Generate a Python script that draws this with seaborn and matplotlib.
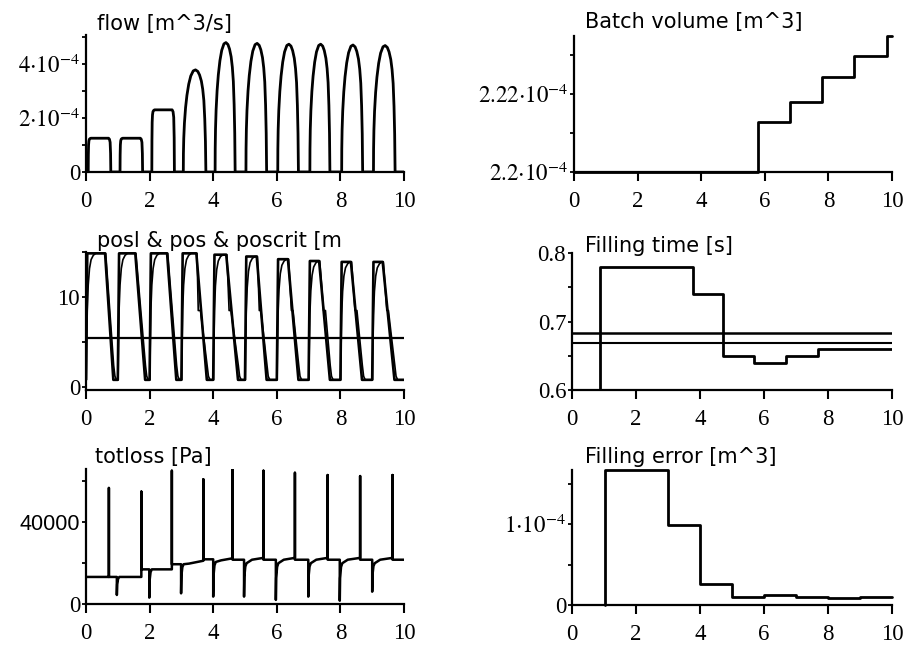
import numpy as np
import matplotlib
matplotlib.use("Agg")
import matplotlib.pyplot as plt
import seaborn as sns
from matplotlib.ticker import FixedLocator

# ---------------------------------------------------------------- data
x_ticks = [0, 2, 4, 6, 8, 10]

# flow [m^3/s]: one pulse per filling cycle
flow_start = [0.07, 1.07, 2.07, 3.06, 4.06, 5.03, 6.03, 7.04, 8.04, 9.04]
flow_end = [0.78, 1.78, 2.78, 3.77, 4.69, 5.68, 6.68, 7.67, 8.70, 9.72]
flow_peak = [1.25e-4, 1.25e-4, 2.30e-4, 3.78e-4, 4.79e-4, 4.76e-4, 4.73e-4,
             4.73e-4, 4.70e-4, 4.68e-4]
flow_shape = ["flat", "flat", "flat", "arc", "arc", "arc", "arc", "arc", "arc", "arc"]
# pulse outlines, position within pulse -> fraction of peak
flat_u = [0, 0.005, 0.015, 0.03, 0.05, 0.08, 0.12, 0.90, 0.94, 0.97, 0.99, 1.0]
flat_f = [0, 0.50, 0.80, 0.92, 0.97, 0.99, 1.0, 1.0, 0.97, 0.88, 0.55, 0]
arc_u = [0, 0.005, 0.02, 0.05, 0.10, 0.16, 0.24, 0.33, 0.44, 0.54, 0.64, 0.72,
         0.80, 0.86, 0.91, 0.95, 0.98, 1.0]
arc_f = [0, 0.18, 0.33, 0.48, 0.63, 0.75, 0.86, 0.94, 0.99, 1.0, 0.985, 0.95,
         0.89, 0.81, 0.70, 0.52, 0.30, 0]

# posl & pos & poscrit [m]
cycle_start = [0, 1, 2, 3, 4, 5, 6, 7, 8, 9]
posl_top = [14.85, 14.85, 14.85, 14.85, 14.7, 14.5, 14.2, 14.0, 13.9, 13.9]
posl_low = 0.8
posl_fall_start = [0.60, 1.55, 2.55, 3.47, 4.41, 5.37, 6.35, 7.33, 8.33, 9.33]
posl_fall_end = [0.86, 1.86, 2.84, 3.80, 4.78, 5.68, 6.68, 7.67, 8.68, 9.70]
pos_rise_dt = [0, 0.01, 0.03, 0.06, 0.10, 0.15, 0.22, 0.30]
pos_rise_f = [0, 0.25, 0.55, 0.75, 0.88, 0.95, 0.985, 1.0]
pos_hold_level = 8.5
pos_hold_start = [None, None, None, 3.53, 4.50, 5.45, 6.46, 7.47, 8.46, 9.46]
pos_hold_end = [None, None, None, 3.60, 4.56, 5.50, 6.51, 7.53, 8.52, 9.51]
poscrit = 5.4

# totloss [Pa]
loss_up_t = [0.72, 1.74, 2.70, 3.69, 4.61, 5.58, 6.57, 7.60, 8.62, 9.64]
loss_up_peak = [56600, 54800, 65000, 60800, 65700, 65000, 64000, 62900, 62400, 62900]
loss_pre = [13200, 13200, 16900, 21100, 22300, 22500, 22500, 22500, 22500, 22500]
loss_post = [13200, 16900, 19400, 21800, 21600, 21600, 21600, 21600, 21600, 21600]
loss_dn_t = [0.97, 1.99, 2.99, 4.00, 4.97, 5.97, 6.99, 7.98, 9.00]
loss_dn_min = [4400, 3100, 5200, 3600, 3600, 2000, 3600, 1600, 6000]
loss_dn_rec = [13200, 16900, 19400, 20500, 19900, 19900, 19900, 19900, 19900]
loss_dn_settle = [13200, 16900, 19700, 21300, 21600, 21600, 21600, 21600, 21600]

# Batch volume [m^3]
batch_t = [0, 5.79, 6.79, 7.80, 8.80, 9.84, 10]
batch_v = [2.2e-4, 2.2128e-4, 2.2179e-4, 2.2243e-4, 2.2297e-4, 2.2349e-4, 2.2349e-4]

# Filling time [s]
fill_t = [0.87, 0.87, 3.79, 4.73, 5.70, 6.70, 7.70, 10]
fill_v = [0.60, 0.78, 0.74, 0.649, 0.640, 0.650, 0.660, 0.660]
fill_ref_hi = 0.683
fill_ref_lo = 0.669

# Filling error [m^3]
err_t = [1.03, 1.03, 3.0, 4.0, 5.0, 6.0, 7.0, 8.0, 9.0, 10]
err_v = [0, 1.67e-4, 0.99e-4, 0.255e-4, 0.10e-4, 0.123e-4, 0.10e-4, 0.082e-4,
         0.10e-4, 0.10e-4]

# ---------------------------------------------------------------- style
sns.set_theme(style="ticks")
plt.rcParams["font.family"] = ["Liberation Serif", "DejaVu Serif"]
plt.rcParams["mathtext.fontset"] = "stix"
plt.rcParams["text.color"] = "black"
plt.rcParams["xtick.color"] = "black"
plt.rcParams["ytick.color"] = "black"
plt.rcParams["axes.edgecolor"] = "black"

W, H = 909, 649
fig = plt.figure(figsize=(W / 100, H / 100), dpi=100)
LW = 2.0


def axes_px(left, right, top, bottom):
    return fig.add_axes([left / W, 1 - bottom / H, (right - left) / W, (bottom - top) / H])


def style(ax, ylim, yt, ylab, yminor):
    ax.set_facecolor("none")
    ax.set_xlim(0, 10)
    ax.set_ylim(*ylim)
    for s in ["top", "right"]:
        ax.spines[s].set_visible(False)
    for s in ["left", "bottom"]:
        ax.spines[s].set_linewidth(1.6)
    ax.set_xticks(x_ticks, [str(v) for v in x_ticks])
    ax.set_yticks(yt, ylab)
    ax.yaxis.set_minor_locator(FixedLocator(yminor))
    ax.tick_params(axis="x", which="major", direction="out", length=6.5, width=1.5,
                   pad=7, labelsize=16.5, bottom=True)
    ax.tick_params(axis="y", which="both", direction="out", length=3.2, width=1.3,
                   pad=1, labelsize=16.5, left=True)
    ax.set_xlabel("")
    ax.set_ylabel("")


def title(x, y, s):
    fig.text(x / W, 1 - y / H, s, fontfamily="DejaVu Sans", fontsize=15,
             va="baseline", ha="left")


def line(ax, xs, ys, lw=LW, **kw):
    sns.lineplot(x=list(xs), y=list(ys), ax=ax, color="black", lw=lw,
                 sort=False, estimator=None, **kw)


# ---------------------------------------------------------------- flow
ax1 = axes_px(86, 404, 35, 172)
fx, fy = [0.0], [0.0]
for s, e, p, kind in zip(flow_start, flow_end, flow_peak, flow_shape):
    u, f = (flat_u, flat_f) if kind == "flat" else (arc_u, arc_f)
    for ui, fi in zip(u, f):
        fx.append(s + ui * (e - s))
        fy.append(fi * p)
fx.append(10.0)
fy.append(0.0)
line(ax1, fx, fy)
style(ax1, (0, 5.07e-4), [0, 2e-4, 4e-4],
      ["0", r"$2{\cdot}10^{-4}$", r"$4{\cdot}10^{-4}$"], [1e-4, 3e-4, 5e-4])
title(97, 30, "flow [m^3/s]")

# ---------------------------------------------------------------- positions
ax2 = axes_px(86, 404, 252, 390)
lx, ly = [0.0], [posl_low]
px, py = [0.0], [posl_low]
for i, n in enumerate(cycle_start):
    top = posl_top[i]
    fs, fe = posl_fall_start[i], posl_fall_end[i]
    lx += [n, n + 0.04, fs, fe]
    ly += [posl_low, top, top, posl_low]
    for dt, fr in zip(pos_rise_dt, pos_rise_f):
        px.append(n + 0.01 + dt)
        py.append(posl_low + fr * (top - posl_low))
    px.append(fs + 0.02)
    py.append(top)
    if pos_hold_start[i] is not None:
        px += [pos_hold_start[i], pos_hold_end[i]]
        py += [pos_hold_level, pos_hold_level]
    px += [fe + 0.01, fe + 0.05, fe + 0.10]
    py += [posl_low + 1.6, posl_low + 0.4, posl_low]
lx.append(10.0)
ly.append(posl_low)
px.append(10.0)
py.append(posl_low)
line(ax2, lx, ly, lw=1.9)
line(ax2, px, py, lw=1.2)
line(ax2, [0, 10], [poscrit, poscrit], lw=1.6)
style(ax2, (-0.33, 15.0), [0, 10], ["0", "10"], [5, 15])
title(97, 247, "posl & pos & poscrit [m")

# ---------------------------------------------------------------- totloss
ax3 = axes_px(86, 404, 469, 604)
tx, ty = [0.0], [loss_pre[0]]
for i, t in enumerate(loss_up_t):
    tx += [t, t, t]
    ty += [loss_pre[i], loss_up_peak[i], loss_post[i]]
    if i < len(loss_dn_t):
        d, m = loss_dn_t[i], loss_dn_min[i]
        r = loss_dn_rec[i]
        tx += [d, d, d + 0.01, d + 0.04, d + 0.08, d + 0.25]
        ty += [loss_post[i], m, m + 0.6 * (r - m), m + 0.9 * (r - m), r,
               loss_dn_settle[i]]
tx.append(10.0)
ty.append(loss_post[-1])
line(ax3, tx, ty, lw=1.8)
style(ax3, (0, 65850), [0, 40000], ["0", "40000"], [20000, 60000])
for lbl in ax3.get_yticklabels():
    if lbl.get_text() == "40000":
        lbl.set_fontfamily("Liberation Sans")
        lbl.set_fontsize(15.5)
title(95, 463, "totloss [Pa]")

# ---------------------------------------------------------------- batch volume
ax4 = axes_px(574, 892, 36, 172)
line(ax4, batch_t, batch_v, drawstyle="steps-post", clip_on=False)
style(ax4, (2.2e-4, 2.2349e-4), [2.2e-4, 2.22e-4],
      [r"$2.2{\cdot}10^{-4}$", r"$2.22{\cdot}10^{-4}$"], [2.21e-4, 2.23e-4])
title(585, 28, "Batch volume [m^3]")

# ---------------------------------------------------------------- filling time
ax5 = axes_px(572, 892, 253, 390)
line(ax5, [0, 10], [fill_ref_hi, fill_ref_hi], lw=1.8)
line(ax5, [0, 10], [fill_ref_lo, fill_ref_lo], lw=1.5)
line(ax5, fill_t, fill_v, drawstyle="steps-post")
style(ax5, (0.6, 0.8), [0.6, 0.7, 0.8], ["0.6", "0.7", "0.8"], [0.65, 0.75])
title(585, 252, "Filling time [s]")

# ---------------------------------------------------------------- filling error
ax6 = axes_px(572, 892, 470, 605)
line(ax6, err_t, err_v, drawstyle="steps-post", clip_on=False)
style(ax6, (0, 1.67e-4), [0, 1e-4], ["0", r"$1{\cdot}10^{-4}$"], [0.5e-4, 1.5e-4])
title(585, 463, "Filling error [m^3]")

for ax in fig.axes:
    if ax.get_legend() is not None:
        ax.get_legend().remove()

fig.savefig("out.png", dpi=100, facecolor="white")
